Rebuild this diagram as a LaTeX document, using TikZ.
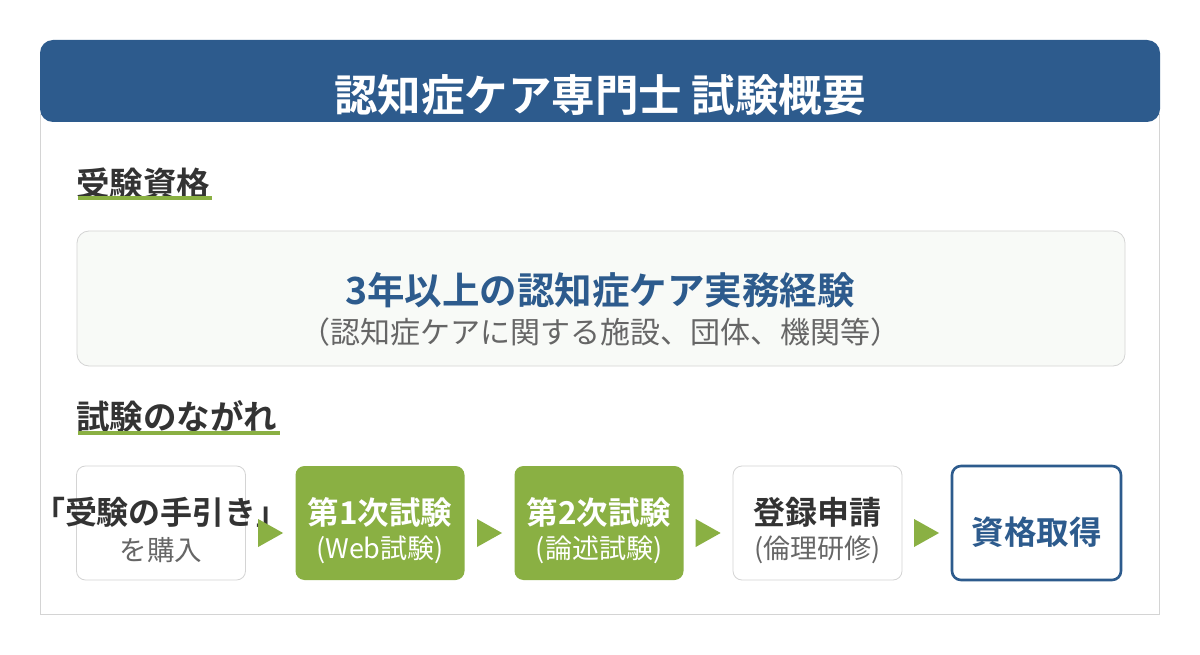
\documentclass[tikz,border=0pt]{standalone}
\usepackage{fontspec}
\setmainfont{Noto Sans CJK JP}[BoldFont={Noto Sans CJK JP Bold}]
\usetikzlibrary{calc}
\definecolor{hdrblue}{HTML}{2D5B8D}
\definecolor{leaf}{HTML}{8AB043}
\definecolor{ink}{HTML}{333333}
\definecolor{soft}{HTML}{666666}
\definecolor{edge}{HTML}{D4D4D4}
\definecolor{pale}{HTML}{F8FAF7}
\tikzset{
  txt/.style={inner sep=0pt, anchor=center},
  flowbox/.style={minimum width=169pt, minimum height=114pt, rounded corners=9pt, inner sep=0pt},
  plainbox/.style={flowbox, draw=edge, line width=0.8pt, fill=white},
  greenbox/.style={flowbox, fill=leaf},
  goalbox/.style={flowbox, draw=hdrblue, line width=2.6pt, fill=white},
  uline/.style={leaf, line width=4pt},
  tri/.style={fill=leaf},
}
\begin{document}
\begin{tikzpicture}[x=1pt,y=-1pt]
\useasboundingbox[fill=white] (0,0) rectangle (1200,655);
% main panel
\draw[edge, line width=1pt, fill=white] (40.5,115) rectangle (1159.5,614);
% header
\fill[hdrblue, rounded corners=13pt] (40,40) rectangle (1160,122);
\node[txt, text=white, font=\bfseries\fontsize{43.5}{43.5}\selectfont] (title) at (600,95) {認知症ケア専門士 試験概要};
% section 1
\node[txt, anchor=west, text=ink, font=\bfseries\fontsize{33.5}{33.5}\selectfont] (sec1) at (76,184) {受験資格};
\draw[uline] (78,198.5) -- (212,198.5);
\node[draw=edge, line width=0.8pt, fill=pale, rounded corners=12pt, minimum width=1048pt, minimum height=135pt] (req) at (601,298.5) {};
\node[txt, text=hdrblue, font=\bfseries\fontsize{37.5}{37.5}\selectfont] (reqmain) at (600,290) {3年以上の認知症ケア実務経験};
\node[txt, text=soft, font=\fontsize{30}{30}\selectfont] (reqsub) at (600,332) {（認知症ケアに関する施設、団体、機関等）};
% section 2
\node[txt, anchor=west, text=ink, font=\bfseries\fontsize{33.5}{33.5}\selectfont] (sec2) at (76,417) {試験のながれ};
\draw[uline] (78,433) -- (280,433);
% flow boxes
\node[plainbox] (b1) at (161,523) {};
\node[greenbox] (b2) at (380,523) {};
\node[greenbox] (b3) at (599,523) {};
\node[plainbox] (b4) at (817.5,523) {};
\node[goalbox] (b5) at (1036.5,523) {};
% texts
\node[txt, text=ink, font=\bfseries\fontsize{32}{32}\selectfont] (t1a) at (161,512) {「受験の手引き」};
\node[txt, text=soft, font=\fontsize{27.5}{27.5}\selectfont] (t1b) at (161,550) {を購入};
\node[txt, text=white, font=\bfseries\fontsize{31.5}{31.5}\selectfont] (t2a) at (380,512) {第1次試験};
\node[txt, text=white, font=\fontsize{27}{27}\selectfont] (t2b) at (380,550) {(Web試験)};
\node[txt, text=white, font=\bfseries\fontsize{31.5}{31.5}\selectfont] (t3a) at (599,512) {第2次試験};
\node[txt, text=white, font=\fontsize{27}{27}\selectfont] (t3b) at (599,550) {(論述試験)};
\node[txt, text=ink, font=\bfseries\fontsize{32}{32}\selectfont] (t4a) at (817.5,512) {登録申請};
\node[txt, text=soft, font=\fontsize{27}{27}\selectfont] (t4b) at (817.5,550) {(倫理研修)};
\node[txt, text=hdrblue, font=\bfseries\fontsize{32.5}{32.5}\selectfont] (t5) at (1036.5,532) {資格取得};
% arrow triangles
\foreach \a/\b in {b1/b2,b2/b3,b3/b4,b4/b5}{
  \fill[tri] ($(\a.east)!0.5!(\b.west)+(-12.5,-4)$) -- ++(25,14) -- ++(-25,14) -- cycle;
}
\end{tikzpicture}
\end{document}
